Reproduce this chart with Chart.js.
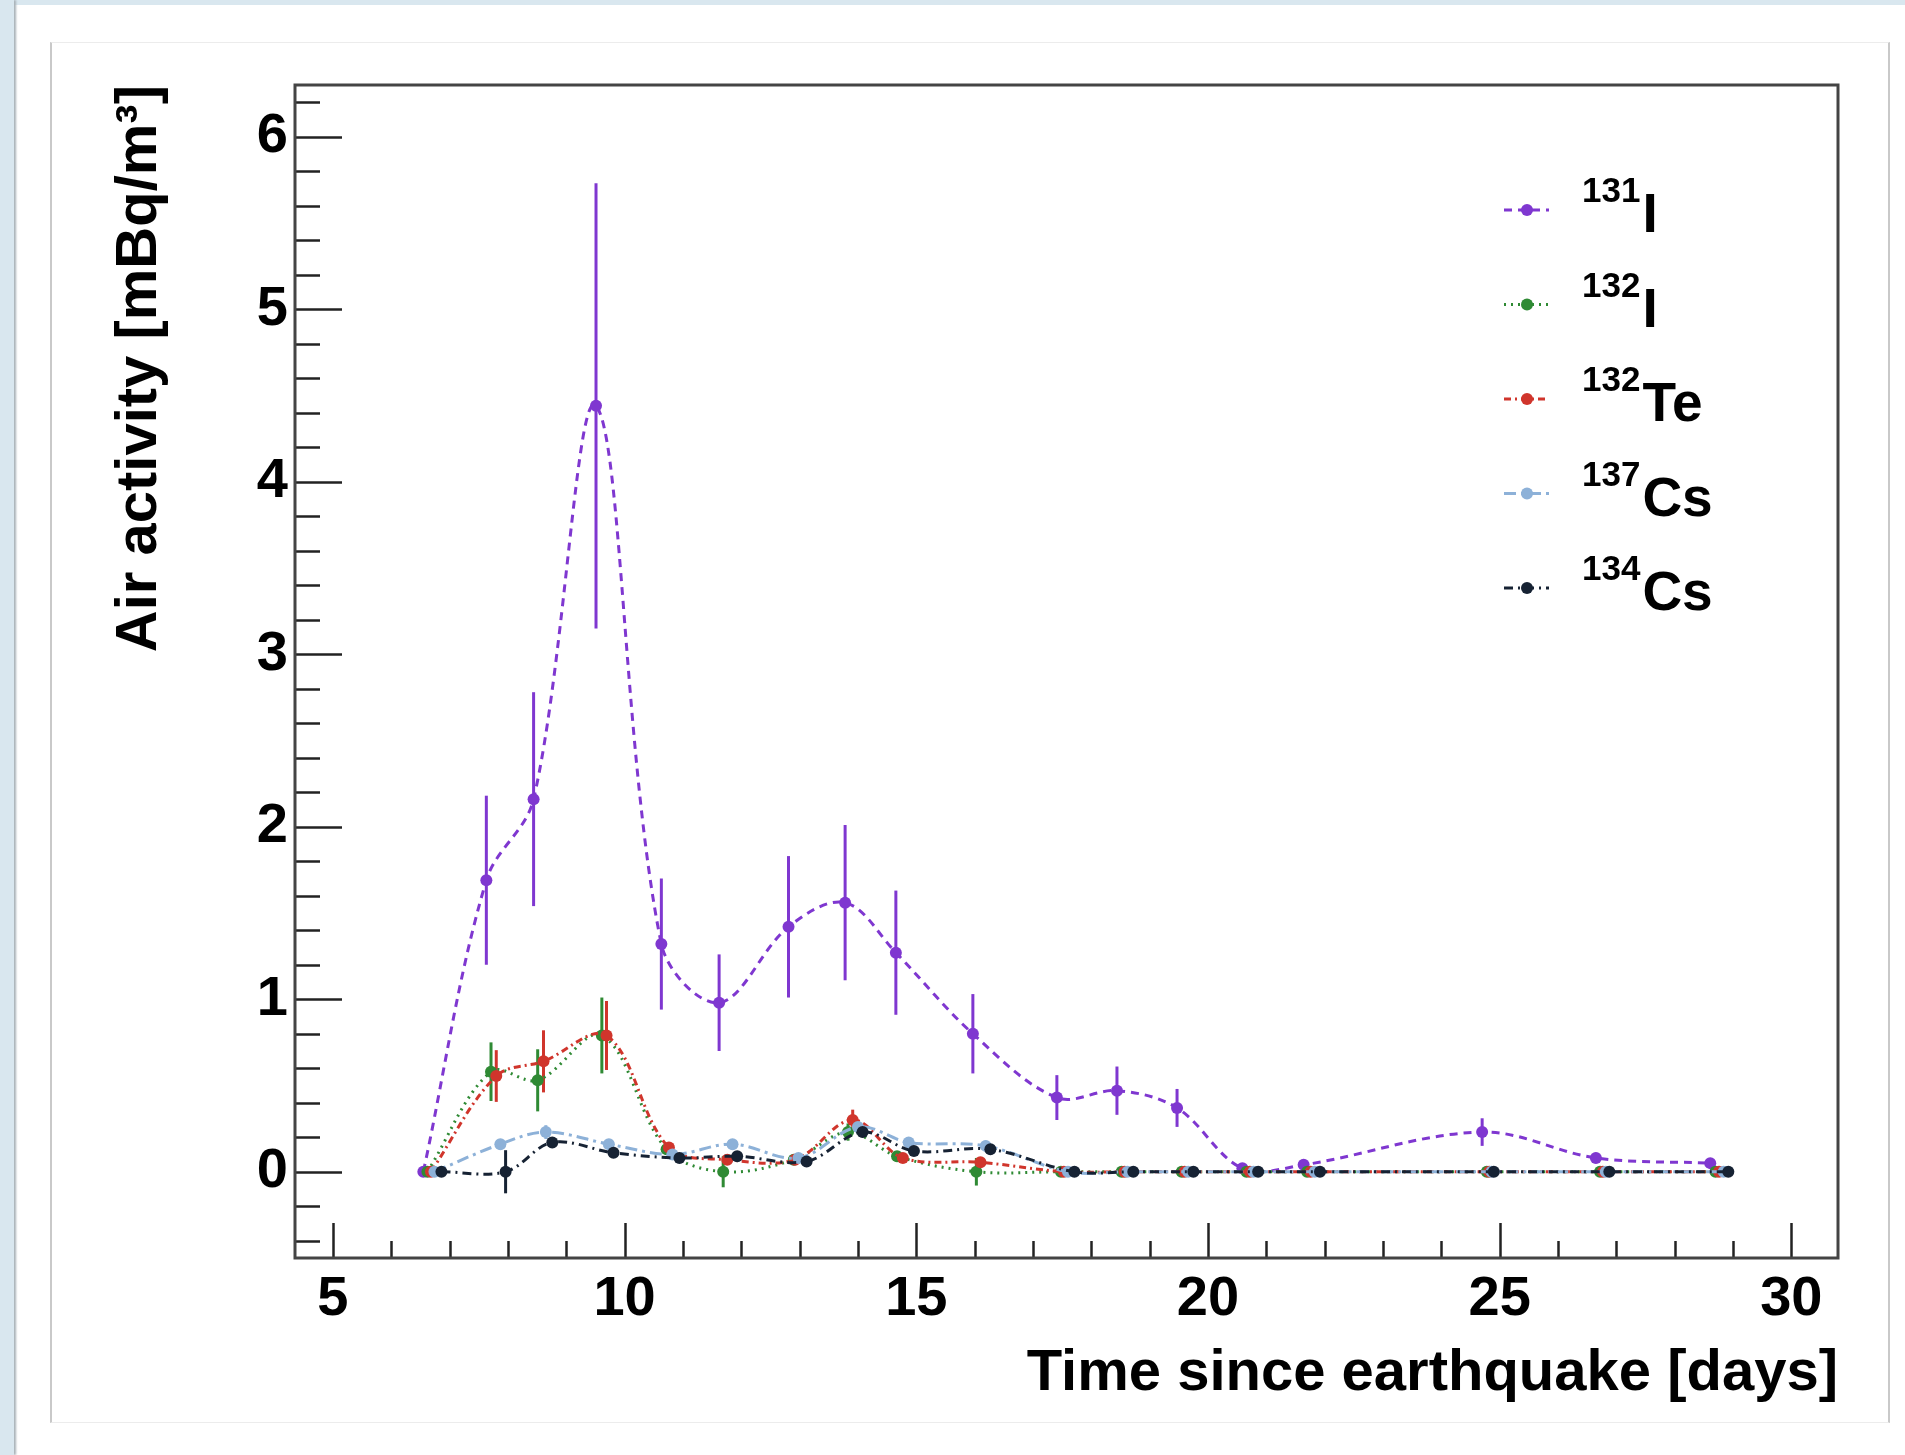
<!DOCTYPE html>
<html>
<head>
<meta charset="utf-8">
<title>Air activity after the earthquake</title>
<script src="https://cdn.jsdelivr.net/npm/chart.js@4.4.1/dist/chart.umd.min.js"></script>
<style>
  html, body { margin: 0; padding: 0; background: #fff; }
  body { width: 1905px; height: 1455px; position: relative; overflow: hidden; }
  .strip-top { position: absolute; left: 0; top: 0; width: 1905px; height: 5px; background: #d9e7ef; }
  .strip-left { position: absolute; left: 0; top: 0; width: 14px; height: 1455px; background: #d9e7ef; box-shadow: 2px 0 2px #a9b2b8; }
  .card { position: absolute; left: 50px; top: 42px; width: 1840px; height: 1381px; box-sizing: border-box;
          border: 1px solid #ececec; border-left: 2px solid #c9c9c9; border-right: 2px solid #c9c9c9; }
  #chart { position: absolute; left: 0; top: 0; }
</style>
</head>
<body>
<div class="strip-top"></div>
<div class="strip-left"></div>
<div class="card"></div>
<canvas id="chart" width="1905" height="1455"></canvas>
<script>
/* ── data ─────────────────────────────────────────────── */
const massNumbers = ['131', '132', '132', '137', '134'];
const elements    = ['I', 'I', 'Te', 'Cs', 'Cs'];

const i131Days = [6.55, 7.63, 8.44, 9.51, 10.63, 11.62, 12.81, 13.78, 14.65, 15.97, 17.41, 18.44, 19.47, 20.59, 21.64, 24.70, 26.65, 28.61];
const i131Act  = [0, 1.69, 2.16, 4.44, 1.32, 0.98, 1.42, 1.56, 1.27, 0.80, 0.43, 0.47, 0.37, 0.02, 0.04, 0.23, 0.08, 0.05];
const i131Err  = [0, 0.49, 0.62, 1.29, 0.38, 0.28, 0.41, 0.45, 0.36, 0.23, 0.13, 0.14, 0.11, 0.01, 0.02, 0.08, 0.03, 0.02];

const i132Days = [6.62, 7.71, 8.51, 9.61, 10.72, 11.69, 12.90, 13.83, 14.67, 16.03, 17.48, 18.52, 19.55, 20.66, 21.70, 24.78, 26.72, 28.70];
const i132Act  = [0, 0.58, 0.53, 0.79, 0.13, 0.0, 0.07, 0.23, 0.09, 0.0, 0, 0, 0, 0, 0, 0, 0, 0];
const i132Err  = [0, 0.17, 0.18, 0.22, 0.03, 0.09, 0.02, 0.05, 0.03, 0.08, 0, 0, 0, 0, 0, 0, 0, 0];

const te132Days = [6.68, 7.80, 8.61, 9.69, 10.76, 11.76, 12.92, 13.91, 14.77, 16.10, 17.53, 18.57, 19.60, 20.72, 21.76, 24.82, 26.77, 28.76];
const te132Act  = [0, 0.555, 0.64, 0.79, 0.14, 0.07, 0.07, 0.30, 0.08, 0.055, 0, 0, 0, 0, 0, 0, 0, 0];
const te132Err  = [0, 0.15, 0.18, 0.20, 0.03, 0.02, 0.02, 0.06, 0.02, 0.02, 0, 0, 0, 0, 0, 0, 0, 0];

const cs137Days = [6.74, 7.87, 8.65, 9.73, 10.82, 11.85, 12.98, 14.00, 14.87, 16.19, 17.60, 18.62, 19.66, 20.78, 21.83, 24.86, 26.82, 28.84];
const cs137Act  = [0, 0.16, 0.23, 0.16, 0.10, 0.16, 0.08, 0.26, 0.17, 0.15, 0, 0, 0, 0, 0, 0, 0, 0];
const cs137Err  = [0, 0.03, 0.04, 0.03, 0.02, 0.03, 0.02, 0.04, 0.03, 0.03, 0, 0, 0, 0, 0, 0, 0, 0];

const cs134Days = [6.86, 7.96, 8.76, 9.81, 10.94, 11.93, 13.12, 14.08, 14.96, 16.27, 17.71, 18.72, 19.75, 20.86, 21.92, 24.90, 26.88, 28.92];
const cs134Act  = [0, 0, 0.17, 0.11, 0.08, 0.09, 0.06, 0.23, 0.12, 0.13, 0, 0, 0, 0, 0, 0, 0, 0];
const cs134Err  = [0, 0.125, 0.03, 0.02, 0.02, 0.02, 0.02, 0.03, 0.02, 0.02, 0, 0, 0, 0, 0, 0, 0, 0];

const xTicks = [5, 10, 15, 20, 25, 30];
const yTicks = [0, 1, 2, 3, 4, 5, 6];

/* ── styles ───────────────────────────────────────────── */
const FONT = '"Liberation Sans", Arial, Helvetica, sans-serif';
const colors = ['#7f37d0', '#2f8a34', '#d0352c', '#8db1d8', '#162233'];
const dashes = [[8, 6], [2, 5], [7, 4, 2, 4], [12, 5, 3, 5], [9, 5, 2, 5]];

const series = [
  { days: i131Days,  act: i131Act,  err: i131Err },
  { days: i132Days,  act: i132Act,  err: i132Err },
  { days: te132Days, act: te132Act, err: te132Err },
  { days: cs137Days, act: cs137Act, err: cs137Err },
  { days: cs134Days, act: cs134Act, err: cs134Err },
];

/** vertical error bars, through the chart's own scales */
const errorBars = {
  id: 'errorBars',
  beforeDatasetsDraw(chart) {
    const { ctx, chartArea: a, scales: { x, y } } = chart;
    ctx.save();
    ctx.beginPath();
    ctx.rect(a.left, a.top, a.right - a.left, a.bottom - a.top);
    ctx.clip();
    ctx.lineWidth = 3;
    series.forEach((s, i) => {
      ctx.strokeStyle = colors[i];
      s.days.forEach((d, k) => {
        if (!s.err[k]) return;
        const px = x.getPixelForValue(d);
        ctx.beginPath();
        ctx.moveTo(px, y.getPixelForValue(s.act[k] - s.err[k]));
        ctx.lineTo(px, y.getPixelForValue(s.act[k] + s.err[k]));
        ctx.stroke();
      });
    });
    ctx.restore();
  },
};

/** ROOT style frame with inward tick marks */
const rootFrame = {
  id: 'rootFrame',
  afterDraw(chart) {
    const { ctx, chartArea: a, scales: { x, y } } = chart;
    ctx.save();
    ctx.strokeStyle = '#222';
    ctx.lineWidth = 2.5;
    // x ticks, 1 day minor
    for (let v = xTicks[0]; v <= xTicks[xTicks.length - 1]; v++) {
      const px = Math.round(x.getPixelForValue(v)) + 0.5;
      const len = xTicks.includes(v) ? 35 : 17;
      ctx.beginPath(); ctx.moveTo(px, a.bottom); ctx.lineTo(px, a.bottom - len); ctx.stroke();
    }
    // y ticks, 0.2 minor
    for (let k = -2; k <= 31; k++) {
      const v = k / 5;
      const py = Math.round(y.getPixelForValue(v)) + 0.5;
      const len = k % 5 === 0 ? 47 : 25;
      ctx.beginPath(); ctx.moveTo(a.left, py); ctx.lineTo(a.left + len, py); ctx.stroke();
    }
    ctx.strokeStyle = '#444';
    ctx.lineWidth = 3;
    ctx.strokeRect(a.left, a.top, a.right - a.left, a.bottom - a.top);
    ctx.restore();
  },
};

/** legend with superscript mass numbers */
const isoLegend = {
  id: 'isoLegend',
  afterDraw(chart) {
    const { ctx } = chart;
    ctx.save();
    chart.data.datasets.forEach((ds, i) => {
      const rowY = 210 + i * 94.5;
      ctx.strokeStyle = colors[i];
      ctx.lineWidth = 3;
      ctx.setLineDash(dashes[i]);
      ctx.beginPath(); ctx.moveTo(1504, rowY); ctx.lineTo(1549, rowY); ctx.stroke();
      ctx.setLineDash([]);
      ctx.fillStyle = colors[i];
      ctx.beginPath(); ctx.arc(1527, rowY, 6, 0, Math.PI * 2); ctx.fill();

      ctx.fillStyle = '#000';
      ctx.textBaseline = 'alphabetic';
      ctx.font = `bold 35px ${FONT}`;
      ctx.fillText(massNumbers[i], 1582, rowY - 8);
      const w = ctx.measureText(massNumbers[i]).width;
      ctx.font = `bold 55px ${FONT}`;
      ctx.fillText(elements[i], 1584 + w, rowY + 22);
    });
    ctx.restore();
  },
};

const tickFont = { family: FONT, size: 56, weight: 'bold' };
const titleFont = { family: FONT, size: 58, weight: 'bold' };

new Chart(document.getElementById('chart').getContext('2d'), {
  type: 'line',
  data: {
    datasets: series.map((s, i) => ({
      label: massNumbers[i] + elements[i],
      data: s.days.map((d, k) => ({ x: d, y: s.act[k] })),
      borderColor: colors[i],
      backgroundColor: colors[i],
      borderWidth: 3,
      borderDash: dashes[i],
      tension: 0.35,
      pointRadius: 6,
      pointBorderWidth: 0,
      pointBackgroundColor: colors[i],
      order: series.length - i,
    })),
  },
  options: {
    responsive: false,
    animation: false,
    events: [],
    layout: { padding: { left: 100, top: 85, right: 67, bottom: 0 } },
    plugins: { legend: { display: false }, tooltip: { enabled: false } },
    scales: {
      x: {
        type: 'linear',
        min: 4.35,
        max: 30.8,
        grid: { display: false, drawTicks: false },
        border: { display: false },
        ticks: { font: tickFont, color: '#000', padding: 8, maxRotation: 0, autoSkip: false },
        afterBuildTicks(s) { s.ticks = xTicks.map(v => ({ value: v })); },
        afterFit(s) { s.height = 197; },
        title: {
          display: true,
          text: 'Time since earthquake [days]',
          align: 'end',
          color: '#000',
          font: titleFont,
          padding: { top: 0, bottom: 46 },
        },
      },
      y: {
        type: 'linear',
        min: -0.5,
        max: 6.3,
        grid: { display: false, drawTicks: false },
        border: { display: false },
        ticks: { font: tickFont, color: '#000', padding: 7, autoSkip: false },
        afterBuildTicks(s) { s.ticks = yTicks.map(v => ({ value: v })); },
        afterFit(s) { s.width = 195; },
        title: {
          display: true,
          text: 'Air activity [mBq/m³]',
          align: 'end',
          color: '#000',
          font: titleFont,
          padding: { top: 5, bottom: 0 },
        },
      },
    },
  },
  plugins: [errorBars, rootFrame, isoLegend],
});
</script>
</body>
</html>
